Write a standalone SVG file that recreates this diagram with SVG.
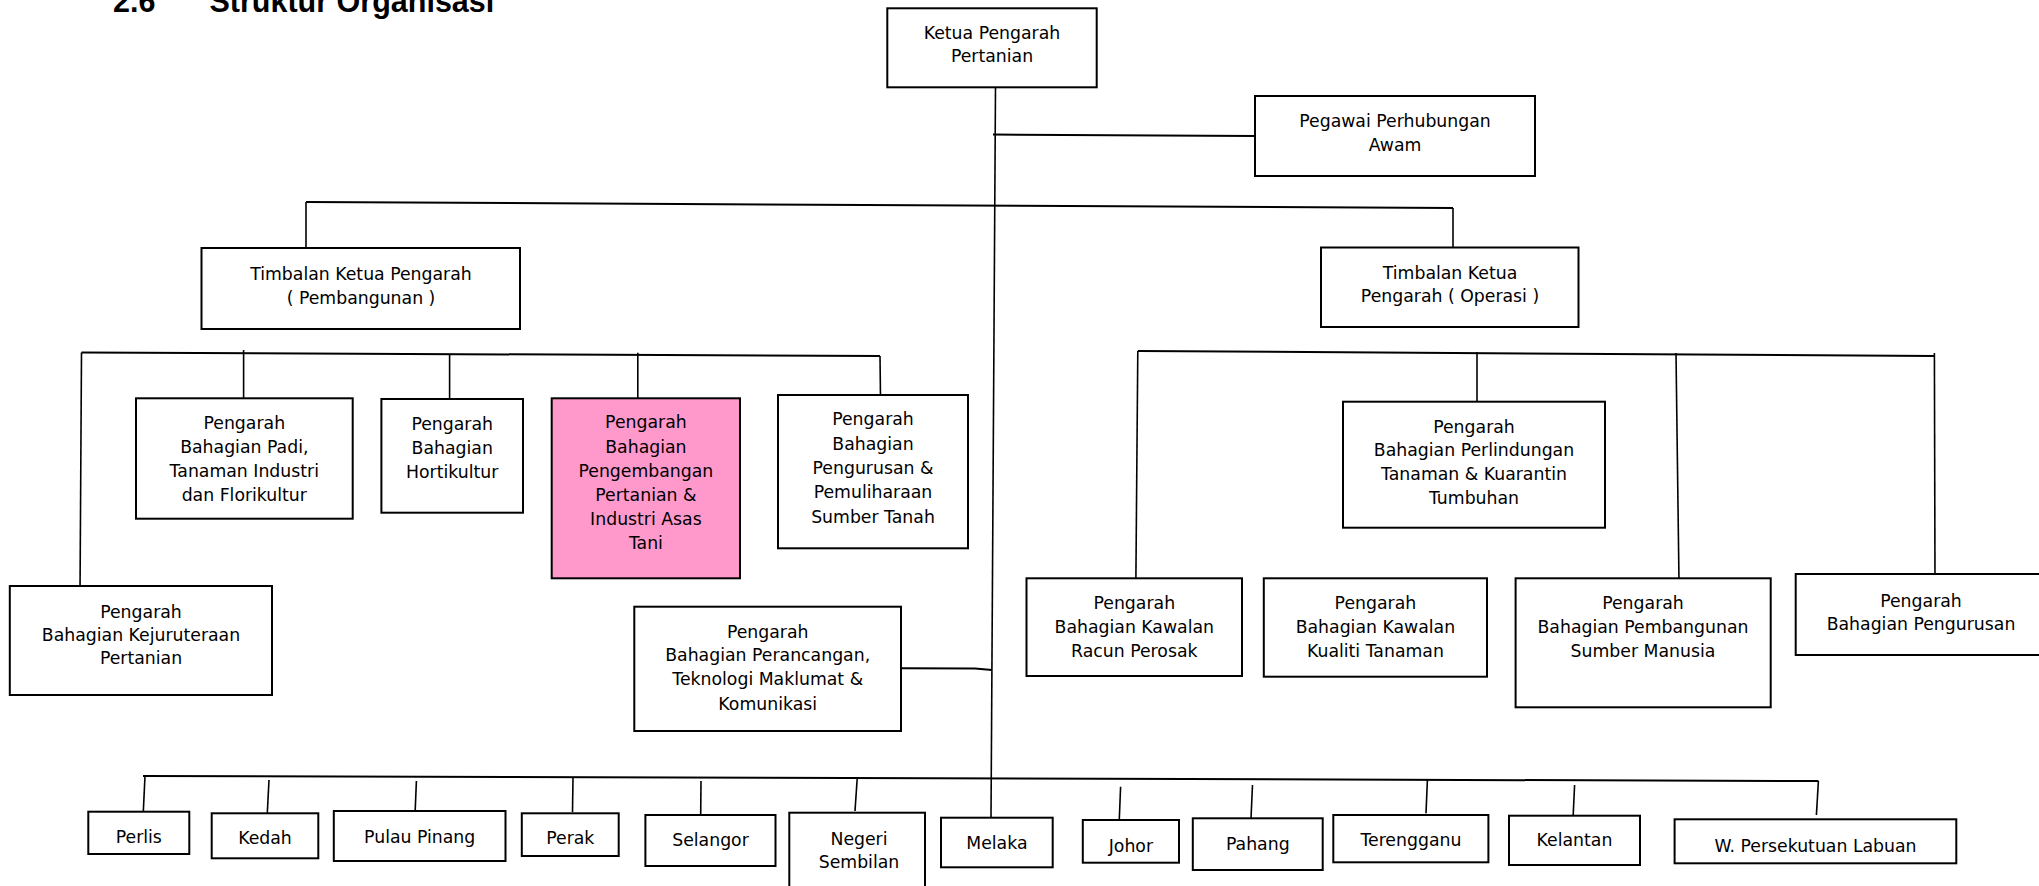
<svg xmlns="http://www.w3.org/2000/svg" width="2039" height="886" viewBox="0 0 2039 886">
<style>
.box{fill:#fff;stroke:#000;stroke-width:2}
.pink{fill:#FF99CC}
.t{font-family:'DejaVu Sans',sans-serif;font-size:17.3px;text-anchor:middle;fill:#000}
.ln{stroke:#000;stroke-width:2;fill:none}
.lv{stroke:#000;stroke-width:1.6;fill:none}
.title{font-family:'Liberation Sans',Arial,sans-serif;font-weight:bold;font-size:30.5px;fill:#000}
</style>
<rect width="2039" height="886" fill="#fff"/>
<g id="title"><text class="title" x="113" y="11.5">2.6</text><text class="title" x="209.5" y="11.5">Struktur Organisasi</text></g>
<g id="connectors">
<line class="lv" x1="995.5" y1="87" x2="991" y2="818"/>
<line class="ln" x1="993" y1="134.5" x2="1255" y2="136"/>
<line class="ln" x1="306" y1="202" x2="1453" y2="208"/>
<line class="lv" x1="306" y1="202" x2="306" y2="250"/>
<line class="lv" x1="1453" y1="208" x2="1453" y2="248"/>
<line class="ln" x1="81.5" y1="352.5" x2="880" y2="356"/>
<line class="lv" x1="81.5" y1="352.5" x2="80" y2="595"/>
<line class="lv" x1="243.6" y1="350" x2="243.6" y2="399.5"/>
<line class="lv" x1="449.6" y1="354" x2="449.6" y2="401.7"/>
<line class="lv" x1="637.8" y1="352.7" x2="637.8" y2="401.7"/>
<line class="lv" x1="880" y1="356" x2="880.5" y2="398"/>
<polyline class="ln" points="901,668.3 975,668.6 992,670"/>
<line class="ln" x1="1137.8" y1="351" x2="1934.4" y2="356"/>
<line class="lv" x1="1137.8" y1="351" x2="1135.8" y2="590"/>
<line class="lv" x1="1477" y1="352" x2="1477" y2="401.7"/>
<line class="lv" x1="1676" y1="353" x2="1679" y2="582"/>
<line class="lv" x1="1934.4" y1="353" x2="1935" y2="582"/>
<line class="ln" x1="143" y1="776" x2="1818.4" y2="781"/>
<line class="lv" x1="145" y1="776" x2="143.3" y2="811.7"/>
<line class="lv" x1="269" y1="780" x2="267.3" y2="813"/>
<line class="lv" x1="416.4" y1="781" x2="415" y2="815"/>
<line class="lv" x1="573" y1="777" x2="572.5" y2="812"/>
<line class="lv" x1="701" y1="781" x2="700.7" y2="814"/>
<line class="lv" x1="857.3" y1="777" x2="855" y2="811"/>
<line class="lv" x1="1120.6" y1="786.7" x2="1119.3" y2="819.3"/>
<line class="lv" x1="1252.5" y1="785" x2="1251" y2="818.3"/>
<line class="lv" x1="1427.4" y1="780" x2="1426" y2="813.3"/>
<line class="lv" x1="1574.6" y1="785" x2="1573" y2="819.3"/>
<line class="lv" x1="1818.4" y1="781" x2="1816.4" y2="815"/>
</g>
<g id="ketua"><rect class="box" x="887.3" y="8.3" width="209.4" height="79"/><text class="t"><tspan x="992" y="39">Ketua Pengarah</tspan><tspan x="992" y="62.3">Pertanian</tspan></text></g>
<g id="pegawai"><rect class="box" x="1255" y="96" width="280" height="80"/><text class="t"><tspan x="1395" y="127">Pegawai Perhubungan</tspan><tspan x="1395" y="150.5">Awam</tspan></text></g>
<g id="tkp_pembangunan"><rect class="box" x="201.5" y="248" width="318.5" height="81"/><text class="t"><tspan x="361" y="280">Timbalan Ketua Pengarah</tspan><tspan x="361" y="303.5">( Pembangunan )</tspan></text></g>
<g id="tkp_operasi"><rect class="box" x="1321" y="247.5" width="257.5" height="79.5"/><text class="t"><tspan x="1450" y="278.7">Timbalan Ketua</tspan><tspan x="1450" y="302">Pengarah ( Operasi )</tspan></text></g>
<g id="padi"><rect class="box" x="136" y="398.3" width="216.7" height="120.4"/><text class="t"><tspan x="244.3" y="429.3">Pengarah</tspan><tspan x="244.3" y="453.3">Bahagian Padi,</tspan><tspan x="244.3" y="477.3">Tanaman Industri</tspan><tspan x="244.3" y="501.3">dan Florikultur</tspan></text></g>
<g id="hortikultur"><rect class="box" x="381.4" y="399" width="141.6" height="113.7"/><text class="t"><tspan x="452.2" y="429.5">Pengarah</tspan><tspan x="452.2" y="453.5">Bahagian</tspan><tspan x="452.2" y="477.5">Hortikultur</tspan></text></g>
<g id="pengembangan"><rect class="box pink" x="551.7" y="398.3" width="188.3" height="180"/><text class="t"><tspan x="645.9" y="428.3">Pengarah</tspan><tspan x="645.9" y="452.5">Bahagian</tspan><tspan x="645.9" y="476.7">Pengembangan</tspan><tspan x="645.9" y="500.9">Pertanian &amp;</tspan><tspan x="645.9" y="525.1">Industri Asas</tspan><tspan x="645.9" y="549.3">Tani</tspan></text></g>
<g id="sumber_tanah"><rect class="box" x="778" y="395" width="190" height="153.3"/><text class="t"><tspan x="873" y="425.3">Pengarah</tspan><tspan x="873" y="449.7">Bahagian</tspan><tspan x="873" y="474">Pengurusan &amp;</tspan><tspan x="873" y="498.3">Pemuliharaan</tspan><tspan x="873" y="522.7">Sumber Tanah</tspan></text></g>
<g id="kejuruteraan"><rect class="box" x="9.8" y="586" width="262.2" height="109"/><text class="t"><tspan x="141" y="617.7">Pengarah</tspan><tspan x="141" y="641">Bahagian Kejuruteraan</tspan><tspan x="141" y="664.3">Pertanian</tspan></text></g>
<g id="perancangan"><rect class="box" x="634.3" y="606.7" width="266.7" height="124.3"/><text class="t"><tspan x="767.7" y="637.7">Pengarah</tspan><tspan x="767.7" y="661">Bahagian Perancangan,</tspan><tspan x="767.7" y="685.3">Teknologi Maklumat &amp;</tspan><tspan x="767.7" y="710">Komunikasi</tspan></text></g>
<g id="perlindungan"><rect class="box" x="1343" y="401.7" width="262" height="126"/><text class="t"><tspan x="1474" y="432.7">Pengarah</tspan><tspan x="1474" y="456">Bahagian Perlindungan</tspan><tspan x="1474" y="480">Tanaman &amp; Kuarantin</tspan><tspan x="1474" y="504.3">Tumbuhan</tspan></text></g>
<g id="racun"><rect class="box" x="1026.5" y="578.3" width="215.5" height="97.7"/><text class="t"><tspan x="1134.3" y="608.7">Pengarah</tspan><tspan x="1134.3" y="632.7">Bahagian Kawalan</tspan><tspan x="1134.3" y="657">Racun Perosak</tspan></text></g>
<g id="kualiti"><rect class="box" x="1263.8" y="578.3" width="223.2" height="98.4"/><text class="t"><tspan x="1375.4" y="608.7">Pengarah</tspan><tspan x="1375.4" y="632.7">Bahagian Kawalan</tspan><tspan x="1375.4" y="657">Kualiti Tanaman</tspan></text></g>
<g id="sdm"><rect class="box" x="1515.6" y="578.3" width="255.1" height="129"/><text class="t"><tspan x="1643" y="609.3">Pengarah</tspan><tspan x="1643" y="632.7">Bahagian Pembangunan</tspan><tspan x="1643" y="657">Sumber Manusia</tspan></text></g>
<g id="pengurusan"><rect class="box" x="1795.7" y="574" width="252" height="81"/><text class="t"><tspan x="1921" y="606.5">Pengarah</tspan><tspan x="1921" y="630">Bahagian Pengurusan</tspan></text></g>
<g id="perlis"><rect class="box" x="88.3" y="811.7" width="101" height="42.3"/><text class="t" x="138.8" y="843.3">Perlis</text></g>
<g id="kedah"><rect class="box" x="211.7" y="813.3" width="106.6" height="45"/><text class="t" x="265" y="844.3">Kedah</text></g>
<g id="pulau_pinang"><rect class="box" x="333.8" y="811" width="171.7" height="50"/><text class="t" x="419.7" y="842.5">Pulau Pinang</text></g>
<g id="perak"><rect class="box" x="521.8" y="813.3" width="96.9" height="42.7"/><text class="t" x="570.3" y="844.3">Perak</text></g>
<g id="selangor"><rect class="box" x="645.4" y="815" width="130.1" height="51"/><text class="t" x="710.5" y="846">Selangor</text></g>
<g id="negeri_sembilan"><rect class="box" x="789.3" y="812.7" width="135.7" height="85"/><text class="t"><tspan x="859" y="845">Negeri</tspan><tspan x="859" y="867.5">Sembilan</tspan></text></g>
<g id="melaka"><rect class="box" x="941" y="817.7" width="111.7" height="49.6"/><text class="t" x="996.9" y="848.5">Melaka</text></g>
<g id="johor"><rect class="box" x="1082.8" y="820" width="96.2" height="42.7"/><text class="t" x="1130.9" y="851.5">Johor</text></g>
<g id="pahang"><rect class="box" x="1192.8" y="818.3" width="129.9" height="51.7"/><text class="t" x="1257.8" y="850">Pahang</text></g>
<g id="terengganu"><rect class="box" x="1333.3" y="815" width="155.1" height="47.3"/><text class="t" x="1410.9" y="846">Terengganu</text></g>
<g id="kelantan"><rect class="box" x="1509" y="815.7" width="131" height="49.3"/><text class="t" x="1574.5" y="846">Kelantan</text></g>
<g id="labuan"><rect class="box" x="1674.6" y="819.3" width="281.7" height="44"/><text class="t" x="1815.5" y="851.5">W. Persekutuan Labuan</text></g>
</svg>
